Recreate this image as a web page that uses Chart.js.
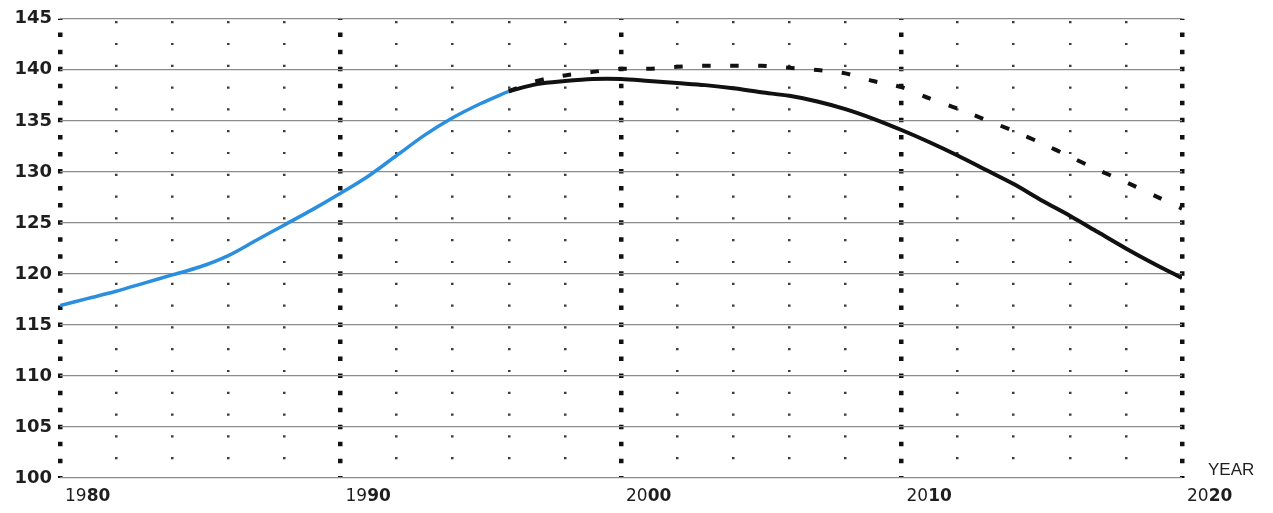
<!DOCTYPE html>
<html lang="en">
<head>
    <meta charset="UTF-8">
    <title>Index 1980-2020</title>
    <script src="https://cdn.jsdelivr.net/npm/chart.js@4.4.0/dist/chart.umd.min.js"></script>
    <style>
        html, body { margin: 0; padding: 0; background: #ffffff; }
        .wrap { width: 1273px; height: 513px; position: relative; }
    </style>
</head>
<body>
    <div class="wrap">
        <canvas id="chart"></canvas>
    </div>

    <script>
        // values
        const pastYears = [1980, 1981, 1982, 1983, 1984, 1985, 1986, 1987, 1988, 1989, 1990,
            1991, 1992, 1993, 1994, 1995, 1996];
        const pastValues = [116.9, 117.6, 118.3, 119.1, 119.9, 120.7, 121.8, 123.3, 124.8, 126.3, 127.9,
            129.6, 131.6, 133.6, 135.3, 136.7, 137.9];

        const futureYears = [1996, 1997, 1998, 1999, 2000, 2001, 2002, 2003, 2004, 2005, 2006, 2007, 2008,
            2009, 2010, 2011, 2012, 2013, 2014, 2015, 2016, 2017, 2018, 2019, 2020];
        const lowValues = [137.9, 138.6, 138.9, 139.1, 139.1, 138.9, 138.7, 138.5, 138.2, 137.8, 137.45, 136.9, 136.15,
            135.2, 134.1, 132.9, 131.6, 130.2, 128.8, 127.2, 125.7, 124.1, 122.5, 121.0, 119.6];
        const highValues = [137.9, 138.9, 139.45, 139.8, 140.1, 140.1, 140.3, 140.4, 140.4, 140.4, 140.2, 139.98, 139.65,
            138.9, 138.3, 137.2, 136.2, 135.1, 134.0, 132.8, 131.5, 130.2, 129.0, 127.7, 126.4];

        const yTicks = [100, 105, 110, 115, 120, 125, 130, 135, 140, 145];
        const decadeLabels = [1980, 1990, 2000, 2010, 2020];

        function points(xs, ys) {
            return xs.map((x, i) => ({ x: x, y: ys[i] }));
        }

        // x labels: "19" regular + "80" bold, plus the YEAR caption
        const yearLabels = {
            id: 'yearLabels',
            afterDraw(chart) {
                const ctx = chart.ctx;
                const sx = chart.scales.x;
                ctx.save();
                ctx.fillStyle = '#1e1e1e';
                ctx.textBaseline = 'middle';
                ctx.textAlign = 'left';
                decadeLabels.forEach(y => {
                    const s = String(y);
                    let px = sx.getPixelForValue(y) + 5;
                    ctx.font = '17px "DejaVu Sans"';
                    ctx.fillText(s.slice(0, 2), px, 497);
                    px += ctx.measureText(s.slice(0, 2)).width;
                    ctx.font = 'bold 17px "DejaVu Sans"';
                    ctx.fillText(s.slice(2), px, 497);
                });
                ctx.font = '17px "Liberation Sans"';
                ctx.fillText('YEAR', sx.right + 26, 470);
                ctx.restore();
            }
        };

        new Chart(document.getElementById('chart'), {
            type: 'line',
            data: {
                datasets: [{
                    label: 'high',
                    data: points(futureYears, highValues),
                    borderColor: '#111111',
                    borderWidth: 4,
                    borderDash: [9, 19],
                    pointRadius: 0,
                    tension: 0.3
                }, {
                    label: 'low',
                    data: points(futureYears, lowValues),
                    borderColor: '#111111',
                    borderWidth: 4,
                    pointRadius: 0,
                    tension: 0.3
                }, {
                    label: 'past',
                    data: points(pastYears, pastValues),
                    borderColor: '#2b8fe0',
                    borderWidth: 3.5,
                    pointRadius: 0,
                    tension: 0.3
                }]
            },
            options: {
                responsive: true,
                maintainAspectRatio: false,
                animation: false,
                layout: {
                    padding: { top: 16, right: 91, left: 0, bottom: 0 }
                },
                plugins: {
                    legend: { display: false },
                    tooltip: { enabled: false }
                },
                scales: {
                    x: {
                        type: 'linear',
                        position: 'bottom',
                        min: 1980,
                        max: 2020,
                        ticks: { stepSize: 2, display: false },
                        grid: {
                            drawTicks: false,
                            lineWidth: 2.5,
                            color: ctx => (ctx.tick && ctx.tick.value % 10 === 0) ? 'rgba(0,0,0,0)' : '#3a3a3a'
                        },
                        border: { display: false, dash: [2.2, 19.6], dashOffset: 19.5 },
                        afterFit(scale) { scale.height = 35; }
                    },
                    x2: {
                        type: 'linear',
                        position: 'bottom',
                        min: 1980,
                        max: 2020,
                        ticks: { stepSize: 10, display: false },
                        grid: { drawTicks: false, lineWidth: 4.5, color: '#111111' },
                        border: { display: false, dash: [4.5, 12.55], dashOffset: 3.25 },
                        afterFit(scale) { scale.height = 0; }
                    },
                    y: {
                        min: 100,
                        max: 145,
                        afterBuildTicks(scale) {
                            scale.ticks = yTicks.map(v => ({ value: v }));
                        },
                        ticks: {
                            color: '#1e1e1e',
                            padding: 8,
                            font: { family: '"DejaVu Sans"', size: 18, weight: 'bold' }
                        },
                        grid: { drawTicks: false, lineWidth: 1.2, color: '#8c8c8c' },
                        border: { display: false },
                        afterFit(scale) { scale.width = 60; }
                    }
                }
            },
            plugins: [yearLabels]
        });
    </script>
</body>
</html>
